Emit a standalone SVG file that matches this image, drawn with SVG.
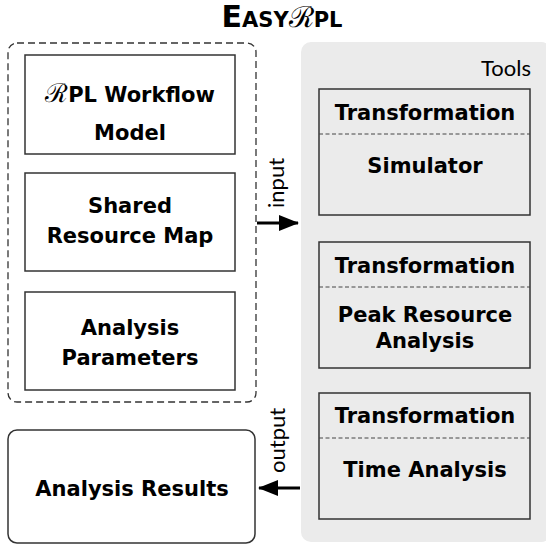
<svg xmlns="http://www.w3.org/2000/svg" width="546" height="546" viewBox="0 0 546 546">
<style>
.b{font-family:"DejaVu Sans","Open Sans",sans-serif;font-weight:700;fill:#000;text-anchor:middle;font-size:21px}
.r{font-family:Lato,"Open Sans",sans-serif;font-weight:400;fill:#000;font-size:22px}
.box{fill:#fff;stroke:#333;stroke-width:1.5}
.tbox{fill:none;stroke:#333;stroke-width:1.5}
.div{stroke:#444;stroke-width:1;stroke-dasharray:4,2.5}
.scr{font-family:"DejaVu Serif","Liberation Serif",serif;font-weight:400}
.arr{stroke:#000;stroke-width:3;fill:none}
</style>
<defs>
<marker id="ah" markerWidth="20" markerHeight="16" refX="19" refY="8" orient="auto" markerUnits="userSpaceOnUse">
<path d="M0,0 L20,8 L0,16 Z" fill="#000"/>
</marker>
</defs>
<g id="title">
<text x="282" y="27" class="b" style="font-size:30px">E<tspan style="font-size:21px">ASY</tspan><tspan class="scr" style="font-size:29px">ℛ</tspan><tspan style="font-size:21px">PL</tspan></text>
</g>
<g id="inputs">
<rect x="8" y="43" width="248" height="359" rx="9" fill="#fff" stroke="#333" stroke-width="1.3" stroke-dasharray="7,4"/>
</g>
<g id="rpl-model">
<rect class="box" x="25" y="55" width="210" height="99"/>
<text x="130" y="102" class="b"><tspan class="scr" style="font-size:26px">ℛ</tspan>PL Workflow</text>
<text x="130" y="140" class="b">Model</text>
</g>
<g id="shared-map">
<rect class="box" x="25" y="173" width="210" height="98"/>
<text x="130" y="213" class="b">Shared</text>
<text x="130" y="243" class="b">Resource Map</text>
</g>
<g id="params">
<rect class="box" x="25" y="292" width="210" height="98"/>
<text x="130" y="335" class="b">Analysis</text>
<text x="130" y="365" class="b">Parameters</text>
</g>
<g id="results">
<rect class="box" x="8" y="430" width="247" height="113" rx="9"/>
<text x="132" y="496" class="b">Analysis Results</text>
</g>
<g id="tools">
<rect x="301" y="42" width="250" height="500" rx="10" fill="#ebebeb"/>
<text x="531" y="76" class="r" text-anchor="end">Tools</text>
</g>
<g id="simulator">
<rect class="tbox" x="319" y="89" width="211" height="126"/>
<line class="div" x1="319" y1="134" x2="530" y2="134"/>
<text x="425" y="120" class="b">Transformation</text>
<text x="425" y="173" class="b">Simulator</text>
</g>
<g id="peak">
<rect class="tbox" x="319" y="242" width="211" height="126"/>
<line class="div" x1="319" y1="287" x2="530" y2="287"/>
<text x="425" y="273" class="b">Transformation</text>
<text x="425" y="322" class="b">Peak Resource</text>
<text x="425" y="348" class="b">Analysis</text>
</g>
<g id="time">
<rect class="tbox" x="319" y="393" width="211" height="126"/>
<line class="div" x1="319" y1="438" x2="530" y2="438"/>
<text x="425" y="423" class="b">Transformation</text>
<text x="425" y="477" class="b">Time Analysis</text>
</g>
<g id="connectors">
<line class="arr" x1="257" y1="223" x2="298" y2="223" marker-end="url(#ah)"/>
<text transform="translate(284,208) rotate(-90)" class="r">input</text>
<line class="arr" x1="300" y1="488" x2="259" y2="488" marker-end="url(#ah)"/>
<text transform="translate(285,473) rotate(-90)" class="r">output</text>
</g>
</svg>
